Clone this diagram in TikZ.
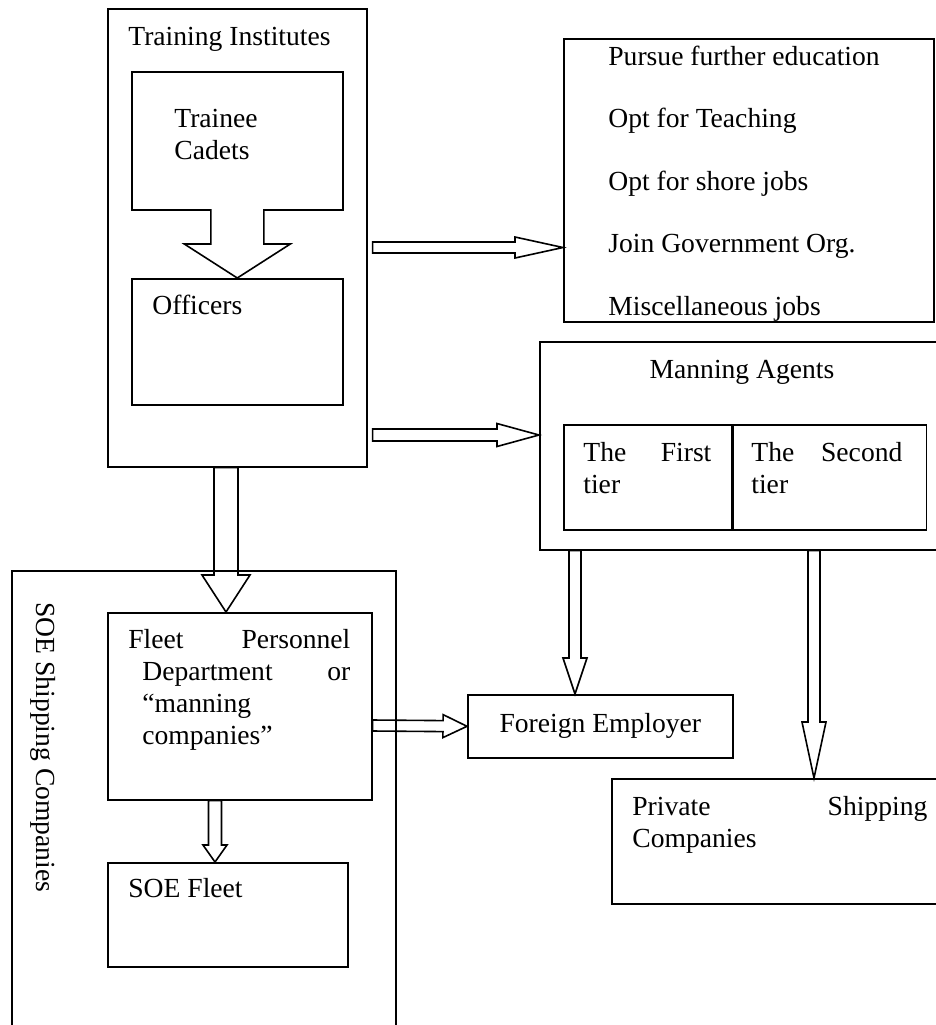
\documentclass[tikz,border=0pt]{standalone}
\usepackage{fontspec}
\setmainfont{Liberation Serif}
\usetikzlibrary{arrows,calc,positioning}
\tikzset{
        block/.style = {draw, rectangle, line width=0.8pt,
            inner sep=0pt, anchor=north west},
        txt/.style = {anchor=base west, inner sep=0pt, align=left,
            font=\fontsize{13.8}{16}\selectfont},
        fat/.style n args = {4}{draw, line width=0.8pt, line join=miter,
            to path={
                ($(\tikztotarget)!#3!(\tikztostart)$) coordinate (fat-h)
                ($(\tikztostart)!#1!90:(\tikztotarget)$)
                -- ($(fat-h)!#1!90:(\tikztotarget)$)
                -- ($(fat-h)!#2!90:(\tikztotarget)$)
                -- (\tikztotarget)
                -- ($(fat-h)!#2!-90:(\tikztotarget)$)
                -- ($(fat-h)!#1!-90:(\tikztotarget)$)
                -- ($(\tikztostart)!#1!-90:(\tikztotarget)$) #4}},
    }

\begin{document}
\begin{tikzpicture}[x=0.5pt,y=-0.5pt]
                    \useasboundingbox (0,0) rectangle (936,1025);

                    % training institutes
                    \node[block, minimum width=129.5pt, minimum height=229pt] (ti) at (107,8) {};
                    \node[block, minimum width=105.5pt, minimum height=69pt] (tc) at (131,71) {};
                    \node[block, minimum width=105.5pt, minimum height=63pt] (off) at (131,278) {};
                    \node[txt] (ti-txt) at (128,45) {Training Institutes};
                    \node[txt, text width=60pt] (tc-txt) at (174,127) {Trainee\\Cadets};
                    \node[txt] (off-txt) at (152,314) {Officers};

                    % other careers
                    \node[block, minimum width=185pt, minimum height=141.5pt] (list) at (563,38) {};
                    \node[txt] (l1) at (608,65) {Pursue further education};
                    \node[txt] (l2) at (608,127) {Opt for Teaching};
                    \node[txt] (l3) at (608,190) {Opt for shore jobs};
                    \node[txt] (l4) at (608,252) {Join Government Org.};
                    \node[txt] (l5) at (608,315) {Miscellaneous jobs};

                    % manning agents
                    \node[block, minimum width=200.5pt, minimum height=104pt] (ma) at (539,341) {};
                    \node[txt, anchor=base] (ma-txt) at (742,378) {Manning Agents};
                    \node[block, minimum width=84pt, minimum height=52.5pt] (tier1) at (563,424) {};
                    \node[block, minimum width=96.5pt, minimum height=52.5pt, right=0pt of tier1] (tier2) {};
                    \node[txt, text width=64pt] (tier1-txt) at (583,461) {The\hfill First\\tier};
                    \node[txt, text width=75.5pt] (tier2-txt) at (751,461) {The\hfill Second\\tier};

                    % state owned companies
                    \node[block, minimum width=192pt, minimum height=232pt] (soe) at (11,570) {};
                    \node[txt, rotate=-90] (soe-txt) at (37,602) {SOE Shipping Companies};
                    \node[block, minimum width=132pt, minimum height=93.5pt] (fleet) at (107,612) {};
                    \node[txt, text width=111pt] (fleet-txt) at (128,648)
                        {Fleet\hfill Personnel\\\hspace*{7pt}Department\hfill or\\\hspace*{7pt}``manning\\\hspace*{7pt}companies''};
                    \node[block, minimum width=120pt, minimum height=52pt] (soef) at (107,862) {};
                    \node[txt] (soef-txt) at (128,897) {SOE Fleet};

                    % employers
                    \node[block, minimum width=132.5pt, minimum height=31.5pt,
                        font=\fontsize{13.8}{16}\selectfont] (foreign) at (467,694) {Foreign Employer};
                    \node[block, minimum width=164.5pt, minimum height=62.5pt] (private) at (611,778) {};
                    \node[txt, text width=147.5pt] (private-txt) at (632,815) {Private\hfill Shipping\\Companies};

                    % block arrows
                    \draw[fat={13.25pt}{26.5pt}{17pt}{}, fill=white] ($(tc.south)+(0,-1.5)$) to (off.north);
                    \draw[fat={2.75pt}{5.25pt}{24pt}{-- cycle}] ($(ti.north east)+(5,239.5)$) to ($(list.north west)+(0,209.5)$);
                    \draw[fat={3pt}{5.75pt}{21pt}{-- cycle}] ($(ti.north east)+(5,427)$) to ($(ma.north west)+(0,94)$);
                    \draw[fat={6pt}{12pt}{18.5pt}{-- cycle}] ($(ti.south west)+(119,0)$) to ($(fleet.north west)+(119,0)$);
                    \draw[fat={3.25pt}{6pt}{8.5pt}{-- cycle}] ($(fleet.south west)+(108,0)$) to ($(soef.north west)+(108,0)$);
                    \draw[fat={2.75pt}{5.75pt}{12pt}{-- cycle}] ($(fleet.north east)+(0,113.5)$) to (foreign.west);
                    \draw[fat={3pt}{6pt}{18pt}{-- cycle}] ($(ma.south west)+(36,0)$) to ($(foreign.north west)+(108,0)$);
                    \draw[fat={3pt}{6pt}{28pt}{-- cycle}] ($(ma.south west)+(275,0)$) to ($(private.north west)+(203,0)$);
                \end{tikzpicture}
\end{document}
